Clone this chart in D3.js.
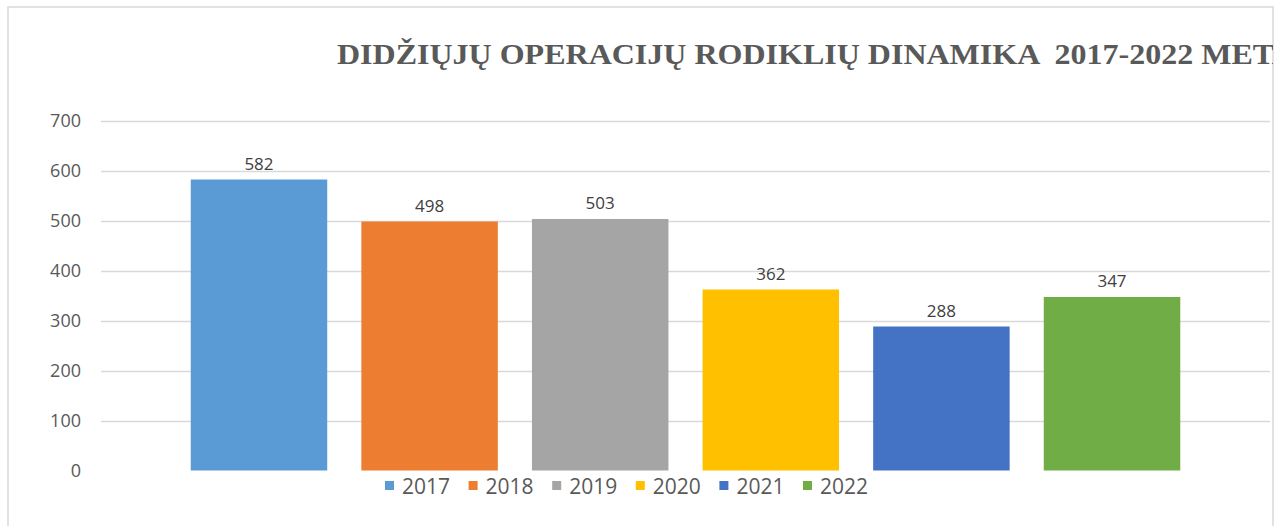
<!DOCTYPE html>
<html><head><meta charset="utf-8">
<script src="https://cdn.jsdelivr.net/npm/d3@7"></script>
<style>html,body{margin:0;padding:0;background:#fff;overflow:hidden}</style>
</head><body>
<script>
const years = ["2017","2018","2019","2020","2021","2022"];
const values = [582, 498, 503, 362, 288, 347];
const colors = ["#5B9BD5","#ED7D31","#A5A5A5","#FFC000","#4472C4","#70AD47"];
const yTicks = [0,100,200,300,400,500,600,700];
const titleText = "DIDŽIŲJŲ OPERACIJŲ RODIKLIŲ DINAMIKA  2017-2022 METAI";

const W = 1279, H = 526;
const svg = d3.select("body").append("svg").attr("width", W).attr("height", H);

// frame
const frame = {x0: 8, y0: 7, x1: 1273};
svg.append("defs").append("clipPath").attr("id","fclip")
  .append("rect").attr("x", frame.x0).attr("y", frame.y0).attr("width", frame.x1-frame.x0).attr("height", H);
svg.append("path").attr("d", `M${frame.x0},${H+2}V${frame.y0}H${frame.x1}V${H+2}`)
  .attr("fill","none").attr("stroke","#d9d9d9").attr("stroke-width",1.5);

const g = svg.append("g").attr("clip-path","url(#fclip)");

const x = d3.scaleBand().domain(years).range([101, 1270]).paddingInner(0.2).paddingOuter(0.526);
const y = d3.scaleLinear().domain([0, 700]).range([470.5, 120.5]);

// gridlines
g.selectAll("line.grid").data(yTicks.filter(d=>d>0)).join("line")
  .attr("x1", 101).attr("x2", 1270)
  .attr("y1", d=>Math.round(y(d))+0.5).attr("y2", d=>Math.round(y(d))+0.5)
  .attr("stroke","#d9d9d9").attr("stroke-width",1.5);

// y axis labels
const yAxis = d3.axisLeft(y).tickValues(yTicks).tickSize(0).tickPadding(0);
const ya = g.append("g").attr("transform","translate(81,0)").call(yAxis);
ya.select(".domain").remove();
ya.selectAll("text").attr("fill","#595959").style("font-family","'Open Sans', sans-serif").style("font-size","18px");

// bars
g.selectAll("rect.bar").data(years).join("rect")
  .attr("x", d=>x(d)).attr("width", x.bandwidth())
  .attr("y", (d,i)=>y(values[i])).attr("height", (d,i)=>y(0)-y(values[i]))
  .attr("fill", (d,i)=>colors[i]);

// data labels
g.selectAll("text.lbl").data(years).join("text")
  .attr("x", d=>x(d)+x.bandwidth()/2).attr("y", (d,i)=>y(values[i])-10)
  .attr("text-anchor","middle").attr("fill","#404040")
  .style("font-family","'Open Sans', sans-serif").style("font-size","17px")
  .text((d,i)=>values[i]);

// title
const t = g.append("text").attr("x", 337).attr("y", 64)
  .attr("fill","#595959").style("font-family","'Liberation Serif', serif")
  .style("font-weight","bold").style("font-size","30px").style("white-space","pre")
  .text(titleText);
// horizontal fit: prefix up to "MET" should span 337 -> 1272
const n = titleText.indexOf("METAI") + 3;
const pre = t.node().getSubStringLength(0, n);
const sx = 935 / pre;
t.attr("transform", `translate(337,0) scale(${sx},1) translate(-337,0)`);

// legend
const legX = d3.scalePoint().domain(years).range([385, 803]);
const lg = g.append("g");
years.forEach((yr,i)=>{
  lg.append("rect").attr("x", legX(yr)).attr("y", 481).attr("width", 9).attr("height", 9).attr("fill", colors[i]);
  lg.append("text").attr("x", legX(yr)+17).attr("y", 494)
    .attr("fill","#595959").style("font-family","'Open Sans', sans-serif").style("font-size","21px")
    .text(yr);
});
</script>
</body></html>
